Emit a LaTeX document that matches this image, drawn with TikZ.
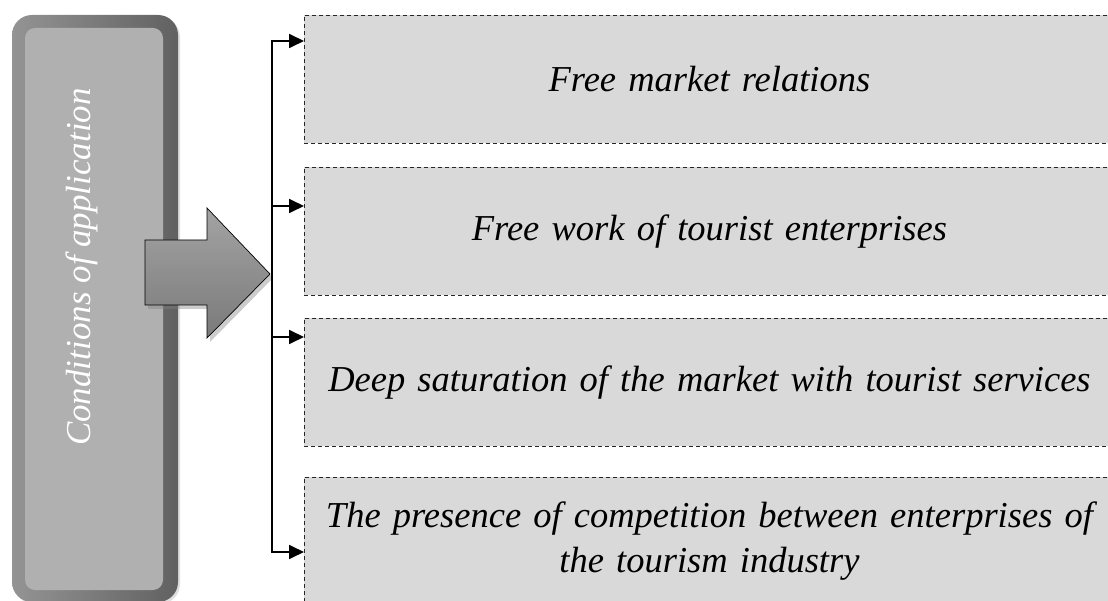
\documentclass[tikz,border=0pt]{standalone}
\usepackage{fontspec}
\setmainfont{Liberation Serif}[ItalicFont={Liberation Serif Italic}]
\usetikzlibrary{arrows.meta, shadows}
\definecolor{itemgray}{HTML}{D9D9D9}
\definecolor{panelgray}{HTML}{B0B0B0}
\tikzset{item/.style={draw=black!85, dash pattern=on 4pt off 3pt, line width=0.9pt, fill=itemgray, anchor=north west, minimum width=810pt, minimum height=128pt, text width=800pt, align=center, inner sep=0pt, font=\fontsize{36.5}{45}\selectfont\itshape}}
\tikzset{feed/.style={line width=1.8pt, {Triangle[length=15pt, width=14pt]}-{Triangle[length=15pt, width=14pt]}}}
\tikzset{feedone/.style={line width=1.8pt, -{Triangle[length=15pt, width=14pt]}}}
\tikzset{frame/.style={rounded corners=20pt, left color=black!42, right color=black!62, minimum width=166pt, minimum height=587pt, inner sep=0pt}}
\tikzset{panel/.style={rounded corners=10pt, fill=panelgray, minimum width=138pt, minimum height=562pt, inner sep=0pt}}

\begin{document}
\begin{tikzpicture}[x=1pt, y=-1pt]
    \useasboundingbox (0,0) rectangle (1108,601);
    \clip (0,0) rectangle (1108,601);
    \node[frame, drop shadow={opacity=0.25, shadow xshift=2pt, shadow yshift=-2pt}] (frame) at (95,308.5) {};
    \node[panel] (panel) at (94,309) {};
    \node[rotate=90, text=white, font=\fontsize{35}{40}\selectfont\itshape] (cond) at (82,267) {Conditions of application};
    \draw[black, line width=0.7pt, top color=black!36, bottom color=black!52, drop shadow={opacity=0.4, shadow xshift=3pt, shadow yshift=-4pt}]
        (145,240) -- (207,240) -- (207,208) -- (270,274) -- (207,338) -- (207,305) -- (145,305) -- cycle;
    \node[item] (b1) at (304,15) {Free market relations};
    \node[item] (b2) at (304,167) {Free work of tourist enterprises};
    \node[item] (b3) at (304,318) {Deep saturation of the market with tourist services};
    \node[item] (b4) at (304,477) {The presence of competition between enterprises of\\ the tourism industry};
    \foreach \y [count=\i] in {41,206,337,552}
        \coordinate (t\i) at (272,\y);
    \draw[feed] (t1 -| b1.west) -- (t1) -- (t4) -- (t4 -| b4.west);
    \draw[feedone] (t2) -- (t2 -| b2.west);
    \draw[feedone] (t3) -- (t3 -| b3.west);
\end{tikzpicture}
\end{document}
